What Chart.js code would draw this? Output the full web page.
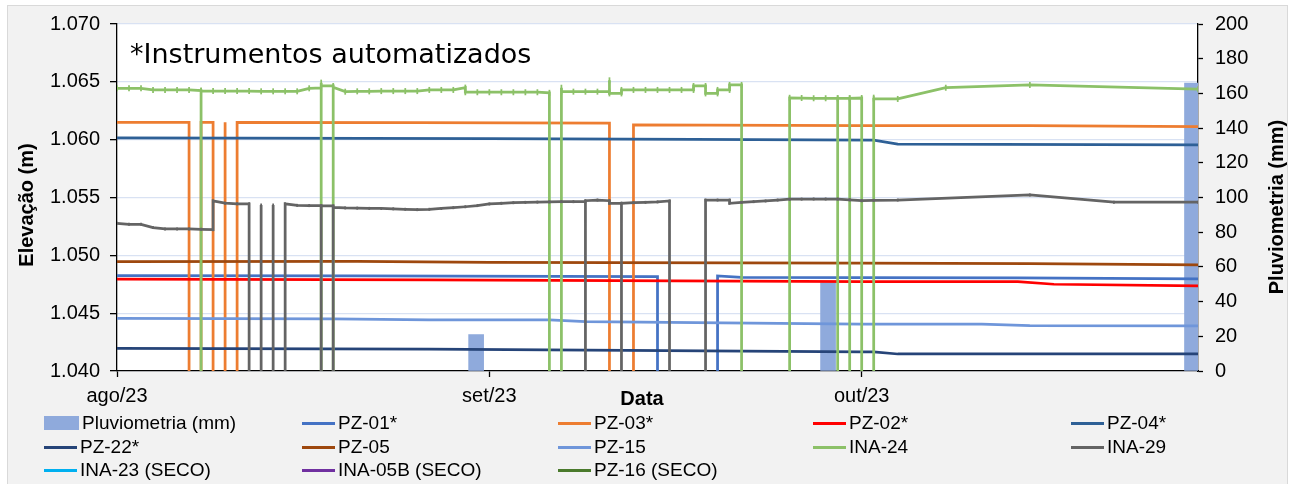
<!DOCTYPE html>
<html lang="pt-BR">
<head>
<meta charset="utf-8">
<title>Elevação x Pluviometria</title>
<script src="https://cdn.jsdelivr.net/npm/chart.js@4.4.1/dist/chart.umd.min.js"></script>
<style>
  html, body { margin: 0; padding: 0; background: #fff; }
  #wrap { position: relative; width: 1290px; height: 484px; overflow: hidden; font-family: 'Liberation Sans', Arial, sans-serif; }
  #frame { position: absolute; left: 7px; top: 5px; width: 1281px; height: 500px; background: #f2f2f2; border: 1px solid #d9d9d9; box-sizing: border-box; }
  #chart { position: absolute; left: 0; top: 0; }
  #legend { position: absolute; left: 0; top: 0; width: 1290px; height: 484px; }
  .item { position: absolute; height: 22px; font-size: 19px; line-height: 22px; color: #000; white-space: nowrap; display: flex; align-items: center; }
  .swatch { display: inline-block; margin-right: 3px; }
</style>
</head>
<body>
<div id="wrap">
  <div id="frame"></div>
  <canvas id="chart" width="1290" height="484"></canvas>
  <div id="legend"></div>
</div>
<script>
// x = dias a partir de 01/08/2023
const monthTicks = [0, 31, 62];
const monthLabels = ['ago/23', 'set/23', 'out/23'];

const elevTicks = [1040, 1045, 1050, 1055, 1060, 1065, 1070];
const elevLabels = ['1.040', '1.045', '1.050', '1.055', '1.060', '1.065', '1.070'];
const pluvTicks = [0, 20, 40, 60, 80, 100, 120, 140, 160, 180, 200];

// Pluviometria (mm)
const pluvDays = [29.9, 59.2, 89.5];
const pluvMm = [21, 51, 166];

const SECO = 0; // leitura zerada

const pz01 = [[0,1048.25],[20,1048.22],[45,1048.16],[45,SECO],[50,SECO],[50,1048.22],[52,1048.10],[62,1048.08],[75,1048.06],[90,1047.96]];
const pz03 = [[0,1061.50],[6,1061.50],[6,SECO],[7,SECO],[7,1061.50],[8,1061.50],[8,SECO],[9,SECO],[9,1061.50],[9,SECO],[10,SECO],[10,1061.50],
  [25,1061.47],[41,1061.42],[41,SECO],[43,SECO],[43,1061.27],[62,1061.22],[76,1061.22],[90,1061.12]];
const pz02 = [[0,1047.95],[26,1047.87],[62,1047.72],[75,1047.72],[78,1047.50],[90,1047.35]];
const pz04 = [[0,1060.16],[31,1060.08],[48,1060.02],[63,1059.96],[65,1059.61],[90,1059.55]];
const pz22 = [[0,1041.96],[26,1041.90],[62,1041.65],[63,1041.65],[65,1041.47],[90,1041.47]];
const pz05 = [[0,1049.45],[20,1049.48],[31,1049.40],[62,1049.32],[76,1049.28],[90,1049.17]];
const pz15 = [[0,1044.56],[18,1044.50],[26,1044.41],[36,1044.41],[39,1044.27],[62,1044.06],[72,1044.06],[76,1043.92],[90,1043.90]];
const ina24 = [[0,1064.44],[1,1064.44],[2,1064.44],[3,1064.30],[4,1064.30],[5,1064.30],[6,1064.30],[7,1064.25],[7,SECO],[7,1064.20],
  [8,1064.20],[9,1064.20],[10,1064.20],[11,1064.20],[12,1064.18],[13,1064.18],[14,1064.18],[15,1064.18],[16,1064.44],
  [17,1064.48],[17,SECO],[17,1064.93],[17,1064.64],[18,1064.64],[18,SECO],[18,1064.52],[19,1064.15],[20,1064.18],[21,1064.18],
  [22,1064.20],[23,1064.20],[24,1064.20],[25,1064.20],[26,1064.30],[27,1064.30],[28,1064.30],[29,1064.50],[29,1064.10],
  [30,1064.10],[31,1064.10],[32,1064.10],[33,1064.10],[34,1064.10],[35,1064.10],[36,1064.05],[36,SECO],[37,SECO],[37,1064.49],
  [37,1064.15],[38,1064.15],[39,1064.15],[40,1064.15],[41,1064.15],[41,1065.13],[41,1064.00],[42,1064.00],[42,1064.30],
  [43,1064.30],[44,1064.30],[45,1064.30],[46,1064.30],[47,1064.30],[48,1064.30],[48,1064.64],[49,1064.64],[49,1064.00],
  [50,1064.00],[50,1064.30],[51,1064.30],[51,1064.73],[52,1064.73],[52,SECO],[56,SECO],[56,1063.62],[57,1063.60],[58,1063.58],
  [59,1063.58],[60,1063.58],[60,SECO],[60,1063.58],[61,1063.58],[61,SECO],[61,1063.58],[62,1063.60],[62,SECO],[63,SECO],
  [63,1063.63],[63,1063.52],[65,1063.52],[69,1064.49],[76,1064.73],[90,1064.36]];
const ina29 = [[0,1052.77],[1,1052.68],[2,1052.68],[3,1052.40],[4,1052.28],[5,1052.28],[6,1052.28],[7,1052.25],[8,1052.22],[8,1054.70],
  [9,1054.51],[10,1054.45],[11,1054.45],[11,SECO],[12,SECO],[12,1054.35],[12,SECO],[13,SECO],[13,1054.35],[13,SECO],[14,SECO],
  [14,1054.45],[15,1054.32],[16,1054.30],[17,1054.29],[17,SECO],[17,1054.29],[18,1054.27],[18,SECO],[18,1054.15],[19,1054.10],
  [20,1054.08],[21,1054.06],[22,1054.05],[23,1054.02],[24,1053.98],[25,1053.95],[26,1053.98],[27,1054.05],[28,1054.12],
  [29,1054.20],[30,1054.30],[31,1054.44],[32,1054.50],[33,1054.55],[34,1054.58],[35,1054.60],[36,1054.62],[37,1054.64],
  [38,1054.64],[39,1054.64],[39,SECO],[39,1054.72],[40,1054.78],[41,1054.72],[41,1054.50],[42,1054.50],[42,SECO],[42,1054.50],
  [43,1054.55],[44,1054.58],[45,1054.62],[46,1054.70],[46,SECO],[49,SECO],[49,1054.78],[50,1054.78],[51,1054.78],[51,1054.50],
  [52,1054.58],[53,1054.64],[54,1054.70],[55,1054.78],[56,1054.85],[57,1054.86],[58,1054.87],[59,1054.87],[60,1054.87],
  [61,1054.80],[62,1054.72],[63,1054.75],[65,1054.78],[76,1055.22],[83,1054.59],[90,1054.59]];
const ina23 = [];
const ina05b = [];
const pz16 = [];

const series = [
  { label: 'PZ-01*', color: '#4472C4', data: pz01 },
  { label: 'PZ-03*', color: '#ED7D31', data: pz03 },
  { label: 'PZ-02*', color: '#FF0000', data: pz02 },
  { label: 'PZ-04*', color: '#2E6096', data: pz04 },
  { label: 'PZ-22*', color: '#264478', data: pz22 },
  { label: 'PZ-05', color: '#9E480E', data: pz05 },
  { label: 'PZ-15', color: '#6F96DA', data: pz15 },
  { label: 'INA-24', color: '#8CC168', data: ina24, tick: 3 },
  { label: 'INA-29', color: '#646464', data: ina29, tick: 1.5 },
  { label: 'INA-23 (SECO)', color: '#00B0F0', data: ina23 },
  { label: 'INA-05B (SECO)', color: '#7030A0', data: ina05b },
  { label: 'PZ-16 (SECO)', color: '#4A7A2C', data: pz16 }
];

const FONT = '"Liberation Sans", Arial, sans-serif';

const datasets = [{
  type: 'bar',
  label: 'Pluviometria (mm)',
  yAxisID: 'y1',
  data: pluvDays.map((d, i) => ({ x: d, y: pluvMm[i] })),
  backgroundColor: '#8FAADC',
  barThickness: 15,
  clip: 0,
  order: 100
}];

series.forEach((s, i) => {
  datasets.push({
    type: 'line',
    label: s.label,
    yAxisID: 'y',
    data: s.data.map(p => ({ x: p[0], y: p[1] })),
    borderColor: s.color,
    backgroundColor: s.color,
    borderWidth: 2.75,
    pointStyle: 'line',
    rotation: 90,
    pointRadius: s.tick || 0,
    pointBorderWidth: 1.75,
    tension: 0,
    clip: 0,
    order: 50 - i
  });
});

// fundo branco da área de plotagem + textos fixos
const textos = {
  id: 'textos',
  beforeDraw(chart) {
    const { ctx, chartArea: a } = chart;
    ctx.save();
    ctx.fillStyle = '#fff';
    ctx.fillRect(a.left, a.top, a.right - a.left, a.bottom - a.top);
    ctx.restore();
  },
  afterDraw(chart) {
    const { ctx } = chart;
    ctx.save();
    ctx.fillStyle = '#000';
    ctx.font = '27px "DejaVu Sans", Verdana, sans-serif';
    ctx.textAlign = 'left';
    ctx.textBaseline = 'alphabetic';
    ctx.fillText('*Instrumentos automatizados', 130, 63);

    ctx.font = 'bold 20px ' + FONT;
    ctx.textAlign = 'center';
    ctx.fillText('Data', 642, 405);

    ctx.save();
    ctx.translate(33, 205);
    ctx.rotate(-Math.PI / 2);
    ctx.fillText('Elevação (m)', 0, 0);
    ctx.restore();

    ctx.save();
    ctx.translate(1283, 207);
    ctx.rotate(-Math.PI / 2);
    ctx.fillText('Pluviometria (mm)', 0, 0);
    ctx.restore();
    ctx.restore();
  }
};

const chart = new Chart(document.getElementById('chart'), {
  type: 'line',
  data: { datasets },
  plugins: [textos],
  options: {
    responsive: false,
    devicePixelRatio: 1,
    animation: false,
    events: [],
    layout: { padding: { top: 24, left: 0, right: 0, bottom: 0 } },
    plugins: { legend: { display: false }, tooltip: { enabled: false } },
    scales: {
      x: {
        type: 'linear',
        min: 0,
        max: 90,
        offset: false,
        afterBuildTicks: s => { s.ticks = monthTicks.map(v => ({ value: v })); },
        afterFit: s => { s.height = 113; },
        ticks: {
          autoSkip: false,
          maxRotation: 0,
          padding: 7,
          color: '#000',
          font: { family: FONT, size: 20 },
          callback: v => monthLabels[monthTicks.indexOf(v)]
        },
        grid: { offset: false, drawOnChartArea: false, tickLength: 6, tickColor: '#000', tickWidth: 1.3 },
        border: { color: '#000', width: 1.3 }
      },
      y: {
        position: 'left',
        min: 1040,
        max: 1070,
        afterBuildTicks: s => { s.ticks = elevTicks.map(v => ({ value: v })); },
        afterFit: s => { s.width = 117; },
        ticks: {
          padding: 10,
          color: '#000',
          font: { family: FONT, size: 20 },
          callback: v => elevLabels[elevTicks.indexOf(v)]
        },
        grid: { color: '#D9E2F3', lineWidth: 1.3, tickLength: 7, tickColor: '#000', tickWidth: 1.3 },
        border: { color: '#000', width: 1.3 }
      },
      y1: {
        position: 'right',
        min: 0,
        max: 200,
        afterBuildTicks: s => { s.ticks = pluvTicks.map(v => ({ value: v })); },
        afterFit: s => { s.width = 92; },
        ticks: {
          padding: 12,
          color: '#000',
          font: { family: FONT, size: 20 }
        },
        grid: { drawOnChartArea: false, tickLength: 5, tickColor: '#000', tickWidth: 1.3 },
        border: { color: '#000', width: 1.3 }
      }
    }
  }
});

// legenda em 5 colunas, 3 linhas
const legendCols = [44, 302, 558, 813, 1071];
const legendRows = [423, 447, 470];
const legendBox = document.getElementById('legend');
chart.data.datasets.forEach((ds, i) => {
  const item = document.createElement('div');
  item.className = 'item';
  item.style.left = legendCols[i % 5] + 'px';
  item.style.top = (legendRows[Math.floor(i / 5)] - 11) + 'px';
  const sw = document.createElement('span');
  sw.className = 'swatch';
  if (ds.type === 'bar') {
    sw.style.width = '35px';
    sw.style.height = '14px';
    sw.style.background = ds.backgroundColor;
  } else {
    sw.style.width = '33px';
    sw.style.height = '3px';
    sw.style.background = ds.borderColor;
  }
  item.appendChild(sw);
  item.appendChild(document.createTextNode(ds.label));
  legendBox.appendChild(item);
});
</script>
</body>
</html>
